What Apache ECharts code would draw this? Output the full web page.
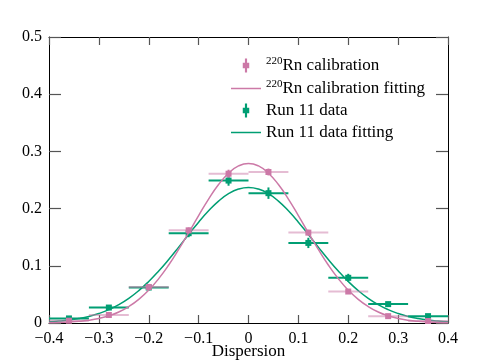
<!DOCTYPE html>
<html>
<head>
<meta charset="utf-8">
<script src="https://cdn.jsdelivr.net/npm/echarts@6/dist/echarts.min.js"></script>
<style>
  html, body { margin: 0; padding: 0; background: #fff; }
  #chart { width: 498px; height: 360px; }
</style>
</head>
<body>
<div id="chart"></div>
<script>
// bin centres and half widths (same for both sets)
const binX = [-0.36, -0.28, -0.2, -0.12, -0.04, 0.04, 0.12, 0.2, 0.28, 0.36]
const binHalf = [0.04, 0.04, 0.04, 0.04, 0.04, 0.04, 0.04, 0.04, 0.04, 0.04]

// 220Rn calibration points
const calY = [0.004, 0.014, 0.063, 0.162, 0.261, 0.264, 0.158, 0.055, 0.012, 0.0035]
const calErr = [0.002, 0.003, 0.004, 0.005, 0.007, 0.006, 0.005, 0.004, 0.002, 0.002]

// Run 11 points
const runY = [0.008, 0.027, 0.062, 0.157, 0.249, 0.227, 0.140, 0.079, 0.033, 0.012]
const runErr = [0.003, 0.004, 0.005, 0.007, 0.009, 0.010, 0.009, 0.007, 0.004, 0.003]

// fitted curves
const curveX = [-0.4, -0.38, -0.36, -0.34, -0.32, -0.3, -0.28, -0.26, -0.24, -0.22, -0.2,
  -0.18, -0.16, -0.14, -0.12, -0.1, -0.08, -0.06, -0.04, -0.02, 0,
  0.02, 0.04, 0.06, 0.08, 0.1, 0.12, 0.14, 0.16, 0.18, 0.2,
  0.22, 0.24, 0.26, 0.28, 0.3, 0.32, 0.34, 0.36, 0.38, 0.4]
const calFit = [0.0005, 0.0009, 0.0017, 0.0029, 0.0049, 0.008, 0.0126, 0.0193, 0.0287, 0.0412, 0.0574,
  0.0776, 0.1014, 0.1286, 0.1579, 0.1879, 0.2167, 0.242, 0.2619, 0.2746, 0.279,
  0.2746, 0.2619, 0.242, 0.2167, 0.1879, 0.1579, 0.1286, 0.1014, 0.0776, 0.0574,
  0.0412, 0.0287, 0.0193, 0.0126, 0.008, 0.0049, 0.0029, 0.0017, 0.0009, 0.0005]
const runFit = [0.0021, 0.0033, 0.0051, 0.0078, 0.0115, 0.0165, 0.0233, 0.0321, 0.0431, 0.0566, 0.0726,
  0.0909, 0.1111, 0.1327, 0.1548, 0.1763, 0.1961, 0.2131, 0.2261, 0.2342, 0.237,
  0.2342, 0.2261, 0.2131, 0.1961, 0.1763, 0.1548, 0.1327, 0.1111, 0.0909, 0.0726,
  0.0566, 0.0431, 0.0321, 0.0233, 0.0165, 0.0115, 0.0078, 0.0051, 0.0033, 0.0021]

const pink = '#cc79a7'
const green = '#009e73'
const font = 'Liberation Serif'

function pts(ys, errs) {
  return binX.map((x, i) => [x, ys[i], errs[i], binHalf[i]])
}
function line(ys) {
  return curveX.map((x, i) => [x, ys[i]])
}

// draws x bar, y bar and a square marker for each point
function errRender(color, barColor) {
  return function (params, api) {
    const x = api.value(0)
    const y = api.value(1)
    const e = api.value(2)
    const h = api.value(3)
    const l = api.coord([x - h, y])
    const r = api.coord([x + h, y])
    const t = api.coord([x, y + e])
    const b = api.coord([x, y - e])
    const c = api.coord([x, y])
    return {
      type: 'group',
      children: [
        { type: 'line', shape: { x1: l[0], y1: l[1], x2: r[0], y2: r[1] }, style: { stroke: barColor, lineWidth: 2 } },
        { type: 'line', shape: { x1: t[0], y1: t[1], x2: b[0], y2: b[1] }, style: { stroke: color, lineWidth: 2 } },
        { type: 'rect', shape: { x: c[0] - 3, y: c[1] - 3, width: 6, height: 6 }, style: { fill: color } }
      ]
    }
  }
}

const ptIcon = 'path://M4,0L6,0L6,4L8,4L8,9L6,9L6,13L4,13L4,9L2,9L2,4L4,4Z'
const lineIcon = 'path://M0,0L30,0L30,1.5L0,1.5Z'

// shared look of the four frame axes
const frameLine = { show: true, onZero: false, lineStyle: { color: '#000', width: 1 } }
function ticks(len) {
  return { show: true, inside: true, length: len, lineStyle: { color: '#555', width: 1.2 } }
}

const chart = echarts.init(document.getElementById('chart'))
chart.setOption({
  animation: false,
  textStyle: { fontFamily: font },
  grid: { left: 49, right: 50, top: 37, bottom: 37, containLabel: false, outerBoundsMode: 'none' },
  legend: {
    left: 231,
    top: 56,
    padding: 0,
    orient: 'vertical',
    selectedMode: false,
    itemWidth: 30,
    itemHeight: 14,
    itemGap: 5,
    textStyle: {
      fontFamily: font,
      fontSize: 17,
      color: '#000',
      rich: {
        sup: { fontFamily: font, fontSize: 11, color: '#000', padding: [0, 0, 8, 0] }
      }
    },
    formatter: name => name.replace(/^220/, '{sup|220}'),
    data: [
      { name: '220Rn calibration', icon: ptIcon },
      { name: '220Rn calibration fitting', icon: lineIcon },
      { name: 'Run 11 data', icon: ptIcon },
      { name: 'Run 11 data fitting', icon: lineIcon }
    ]
  },
  xAxis: [{
    type: 'value',
    min: -0.4,
    max: 0.4,
    interval: 0.1,
    name: 'Dispersion',
    nameLocation: 'middle',
    nameGap: 20,
    nameMoveOverlap: false,
    nameTextStyle: { fontFamily: font, fontSize: 17, color: '#000' },
    axisLine: frameLine,
    axisTick: ticks(8),
    axisLabel: {
      margin: 8,
      fontFamily: font,
      fontSize: 16,
      color: '#000',
      formatter: v => (Math.abs(v) < 1e-9 ? '0' : (v < 0 ? '\u2212' + (-v).toFixed(1) : v.toFixed(1)))
    },
    splitLine: { show: false }
  }, {
    type: 'value',
    position: 'top',
    min: -0.4,
    max: 0.4,
    interval: 0.1,
    axisLine: frameLine,
    axisTick: ticks(8),
    axisLabel: { show: false },
    splitLine: { show: false }
  }],
  yAxis: [{
    type: 'value',
    position: 'left',
    min: 0,
    max: 0.5,
    interval: 0.1,
    axisLine: frameLine,
    axisTick: ticks(12),
    axisLabel: {
      margin: 7,
      fontFamily: font,
      fontSize: 16,
      color: '#000',
      formatter: v => (v === 0 ? '0' : v.toFixed(1))
    },
    splitLine: { show: false }
  }, {
    type: 'value',
    position: 'right',
    min: 0,
    max: 0.5,
    interval: 0.1,
    axisLine: frameLine,
    axisTick: ticks(12),
    axisLabel: { show: false },
    splitLine: { show: false }
  }],
  series: [{
    name: 'Run 11 data',
    type: 'custom',
    itemStyle: { color: green },
    renderItem: errRender(green, green),
    data: pts(runY, runErr),
    z: 2
  }, {
    name: 'Run 11 data fitting',
    type: 'line',
    smooth: true,
    showSymbol: false,
    symbol: 'none',
    color: green,
    lineStyle: { color: green, width: 1.5 },
    data: line(runFit),
    z: 3
  }, {
    name: '220Rn calibration',
    type: 'custom',
    itemStyle: { color: pink },
    renderItem: errRender(pink, 'rgba(204,121,167,0.5)'),
    data: pts(calY, calErr),
    z: 4
  }, {
    name: '220Rn calibration fitting',
    type: 'line',
    smooth: true,
    showSymbol: false,
    symbol: 'none',
    color: pink,
    lineStyle: { color: pink, width: 1.5 },
    data: line(calFit),
    z: 5
  }]
})
</script>
</body>
</html>
